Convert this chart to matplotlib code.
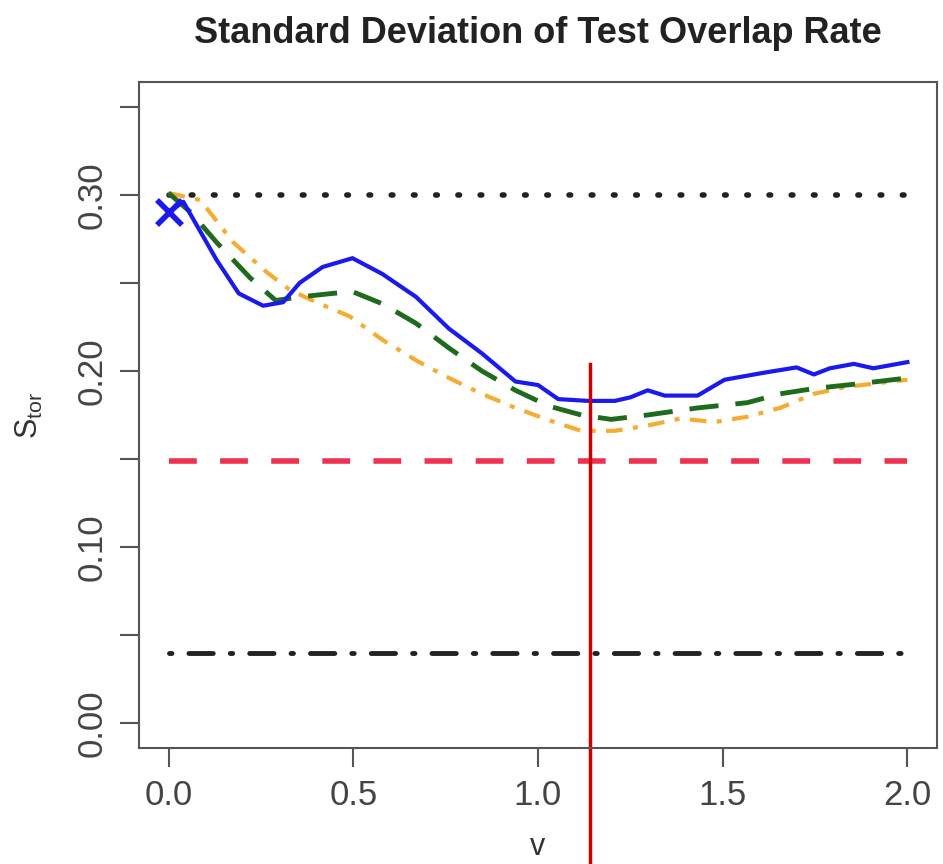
import matplotlib
matplotlib.use("Agg")
import matplotlib.pyplot as plt
import numpy as np

plt.rcParams['font.family'] = ['Liberation Sans', 'DejaVu Sans']

# smoothing parameter v and the standard deviation curves
v_blue = [0.0, 0.04, 0.13, 0.19, 0.256, 0.31, 0.355, 0.417, 0.498, 0.579, 0.67, 0.759,
          0.848, 0.939, 1.0, 1.055, 1.136, 1.208, 1.25, 1.297, 1.343, 1.432, 1.505,
          1.612, 1.70, 1.747, 1.79, 1.855, 1.908, 2.0]
s_blue = [0.290, 0.296, 0.263, 0.244, 0.237, 0.239, 0.250, 0.259, 0.264, 0.255, 0.242, 0.224,
          0.210, 0.194, 0.192, 0.184, 0.183, 0.183, 0.185, 0.189, 0.186, 0.186, 0.195,
          0.199, 0.202, 0.198, 0.2015, 0.204, 0.2015, 0.205]

v_green = [0.0, 0.06, 0.13, 0.22, 0.29, 0.355, 0.444, 0.498, 0.58, 0.67, 0.759, 0.848,
           0.939, 1.03, 1.117, 1.198, 1.297, 1.432, 1.567, 1.655, 1.747, 1.88, 2.0]
s_green = [0.301, 0.290, 0.273, 0.253, 0.240, 0.242, 0.244, 0.245, 0.238, 0.227, 0.213, 0.200,
           0.189, 0.180, 0.175, 0.1725, 0.175, 0.179, 0.182, 0.187, 0.190, 0.193, 0.196]

v_orange = [0.0, 0.086, 0.175, 0.266, 0.328, 0.40, 0.49, 0.58, 0.67, 0.759, 0.848, 0.939,
            1.03, 1.117, 1.208, 1.297, 1.386, 1.478, 1.567, 1.655, 1.747, 1.836, 2.0]
s_orange = [0.301, 0.297, 0.273, 0.256, 0.246, 0.239, 0.231, 0.2175, 0.206, 0.196, 0.187, 0.179,
            0.172, 0.166, 0.166, 0.169, 0.173, 0.171, 0.174, 0.179, 0.187, 0.191, 0.195]

# reference levels
level_dotted = 0.30
level_red = 0.149
level_dashdot = 0.04
start_point = (0.0, 0.29)
v_marker = 1.14

fig = plt.figure(figsize=(9.43, 8.64), dpi=100)
ax = fig.add_axes([0.1474, 0.1343, 0.8462, 0.7708])

ax.plot([0, 2], [level_dotted] * 2, color='#222222', lw=4, linestyle=(0, (0.3, 3.7)),
        dash_capstyle='round')
ax.plot([0, 2], [level_red] * 2, color='#f03050', lw=4, linestyle=(0, (5, 4.2)))
ax.plot([0, 2], [level_dashdot] * 2, color='#222222', lw=3.5,
        linestyle=(0, (0.5, 3.5, 5, 3.5)), dash_capstyle='round')

ax.plot(v_orange, s_orange, color='#f5ac30', lw=3, linestyle=(0, (4, 2.5, 1.2, 2.5)))
ax.plot(v_green, s_green, color='#1e6b1e', lw=3.5, linestyle=(0, (6, 3.5)))
ax.plot(v_blue, s_blue, color='#1a1aee', lw=3)
ax.plot(*start_point, marker='x', color='#1a1aee', ms=18, mew=4)

# vertical marker running past the bottom of the axes
ax.plot([v_marker, v_marker], [0.204, -0.1], color='#cc0000', lw=2.5, clip_on=False)

ax.set_xlim(-0.08, 2.08)
ax.set_ylim(-0.014, 0.364)
ax.set_xticks([0.0, 0.5, 1.0, 1.5, 2.0])
ax.set_xticklabels(['0.0', '0.5', '1.0', '1.5', '2.0'])
ax.set_yticks([0.0, 0.05, 0.10, 0.15, 0.20, 0.25, 0.30, 0.35])
ax.set_yticklabels(['0.00', '', '0.10', '', '0.20', '', '0.30', ''], rotation=90, va='center')

for sp in ax.spines.values():
    sp.set_color('#555555')
    sp.set_linewidth(1.5)
ax.tick_params(axis='both', direction='out', length=14, width=1.5, color='#555555',
               labelsize=25, labelcolor='#444444', pad=8)

ax.set_xlabel('v', fontsize=22, color='#333333', labelpad=15)
ax.set_ylabel(r'$\mathregular{S_{tor}}$', fontsize=22, color='#333333', labelpad=22)
ax.set_title('Standard Deviation of Test Overlap Rate', fontsize=26, fontweight='bold',
             color='#222222', pad=28)

fig.savefig('out.png', dpi=100)
